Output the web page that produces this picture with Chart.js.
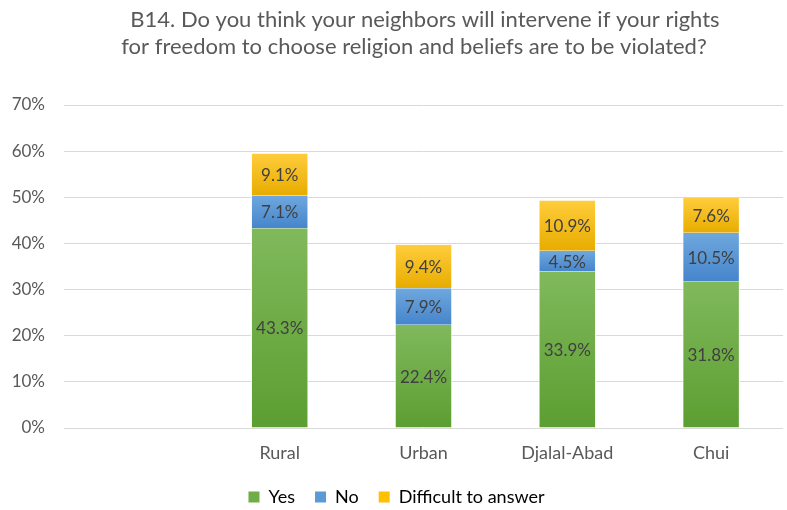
<!DOCTYPE html>
<html><head><meta charset="utf-8">
<script src="https://cdn.jsdelivr.net/npm/chart.js@4"></script>
<style>html,body{margin:0;padding:0;background:#fff;}#w{width:787px;height:510px;position:relative;}</style>
</head><body><div id="w"><canvas id="c" width="787" height="510"></canvas></div>
<script>
const categories = ["", "Rural", "Urban", "Djalal-Abad", "Chui"];
const yesValues = [null, 43.3, 22.4, 33.9, 31.8];
const noValues = [null, 7.1, 7.9, 4.5, 10.5];
const difficultValues = [null, 9.1, 9.4, 10.9, 7.6];
const seriesNames = ["Yes", "No", "Difficult to answer"];
const titleLines = ["B14. Do you think your neighbors will intervene if your rights", "for freedom to choose religion and beliefs are to be violated?"];
const yTicks = [0, 10, 20, 30, 40, 50, 60, 70];

const FONT = "Lato, 'Open Sans', sans-serif";
const palettes = [
  ["#80b95c", "#5c9e31", "#70ad47"],
  ["#6fa8de", "#4685cc", "#5b9bd5"],
  ["#ffcd3c", "#e8ac00", "#ffc000"]
];
const allData = [yesValues, noValues, difficultValues];

function segGradient(ctx, di) {
  const chart = ctx.chart;
  const pal = palettes[di];
  if (!chart.chartArea || !chart.scales.y || ctx.type !== 'data') return pal[2];
  const i = ctx.dataIndex;
  let base = 0;
  for (let k = 0; k < di; k++) base += allData[k][i] || 0;
  const top = base + (allData[di][i] || 0);
  const y0 = chart.scales.y.getPixelForValue(top);
  const y1 = chart.scales.y.getPixelForValue(base);
  if (!isFinite(y0) || !isFinite(y1) || y0 === y1) return pal[2];
  const g = chart.ctx.createLinearGradient(0, y0, 0, y1);
  g.addColorStop(0, pal[0]);
  g.addColorStop(1, pal[1]);
  return g;
}

const titlePlugin = {
  id: 'customTitle',
  afterDraw(chart) {
    const c = chart.ctx;
    c.save();
    c.font = "22px " + FONT;
    c.fillStyle = "#595959";
    c.textAlign = "center";
    c.textBaseline = "middle";
    c.fillText(titleLines[0], 425, 20);
    c.fillText(titleLines[1], 414, 47);
    c.restore();
  }
};

const labelPlugin = {
  id: 'segLabels',
  afterDatasetsDraw(chart) {
    const c = chart.ctx;
    c.save();
    c.font = "17px " + FONT;
    c.fillStyle = "#404040";
    c.textAlign = "center";
    c.textBaseline = "middle";
    chart.data.datasets.forEach((ds, di) => {
      const meta = chart.getDatasetMeta(di);
      meta.data.forEach((el, i) => {
        const v = ds.data[i];
        if (v == null) return;
        const yc = (el.y + el.base) / 2;
        c.fillText(v.toFixed(1) + "%", el.x, yc + 1);
      });
    });
    c.restore();
  }
};

const datasets = allData.map((arr, di) => ({
  label: seriesNames[di],
  data: arr,
  backgroundColor: (ctx) => segGradient(ctx, di),
  borderColor: "#ffffff",
  borderWidth: {top: 0, bottom: 0, left: 1, right: 1},
  borderSkipped: false,
  categoryPercentage: 1.0,
  barPercentage: 0.4,
  stack: "s"
}));

new Chart(document.getElementById("c"), {
  type: "bar",
  data: { labels: categories, datasets },
  plugins: [labelPlugin, titlePlugin],
  options: {
    responsive: false,
    animation: false,
    devicePixelRatio: 1,
    layout: { padding: { left: 10, right: 4, top: 105, bottom: -6 } },
    plugins: {
      title: { display: false },
      legend: {
        position: "bottom",
        labels: {
          color: "#595959",
          font: { family: FONT, size: 18 },
          boxWidth: 11, boxHeight: 11,
          padding: 20,
          generateLabels(chart) {
            return seriesNames.map((n, di) => ({
              text: n, fillStyle: palettes[di][2], strokeStyle: palettes[di][2], lineWidth: 0,
              datasetIndex: di, hidden: false
            }));
          }
        }
      },
      tooltip: { enabled: false }
    },
    scales: {
      x: {
        stacked: true,
        grid: { display: false },
        border: { display: false },
        ticks: { color: "#595959", font: { family: FONT, size: 18 }, padding: 6 },
        afterFit(axis) { axis.height = 40; }
      },
      y: {
        stacked: true,
        min: 0, max: 70,
        afterBuildTicks(axis) { axis.ticks = yTicks.map(v => ({ value: v })); },
        grid: { color: "#d9d9d9", lineWidth: 1, drawTicks: false },
        border: { display: false },
        ticks: { color: "#595959", font: { family: FONT, size: 17 }, padding: 19, callback: v => v + "%" },
        afterFit(axis) { axis.width = 54; }
      }
    }
  }
});
</script>
</body></html>
